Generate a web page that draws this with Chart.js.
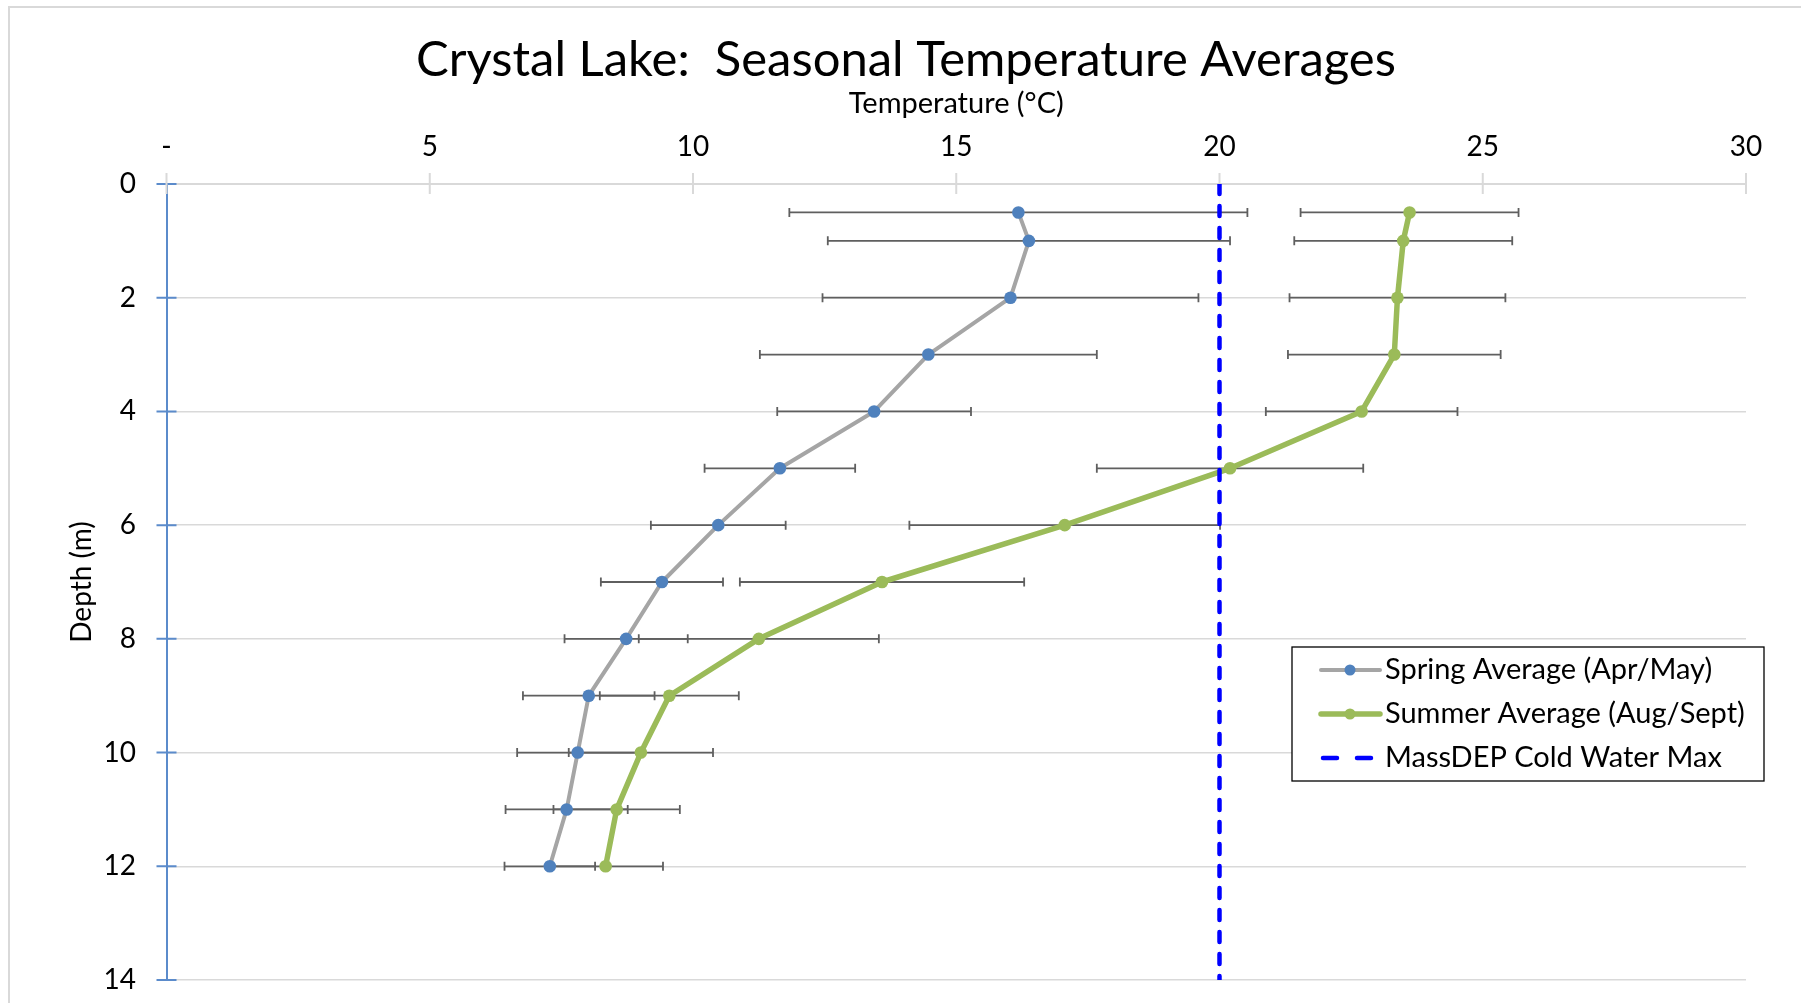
<!DOCTYPE html>
<html>
<head>
<meta charset="utf-8">
<script src="https://cdn.jsdelivr.net/npm/chart.js@4/dist/chart.umd.min.js"></script>
<style>
html,body{margin:0;padding:0;background:#fff;overflow:hidden}
canvas{display:block}
</style>
</head>
<body>
<canvas id="c" width="1801" height="1003"></canvas>
<script>
// ---------------- DATA ----------------
const chartTitle = 'Crystal Lake:  Seasonal Temperature Averages';
const xAxisTitle = 'Temperature (°C)';
const yAxisTitle = 'Depth (m)';
const seriesNames = ['Spring Average (Apr/May)', 'Summer Average (Aug/Sept)', 'MassDEP Cold Water Max'];

const depths     = [0.5, 1, 2, 3, 4, 5, 6, 7, 8, 9, 10, 11, 12];
const springTemp = [16.18, 16.38, 16.03, 14.47, 13.44, 11.65, 10.48, 9.41, 8.73, 8.02, 7.81, 7.60, 7.28];
const springErr  = [4.35, 3.82, 3.57, 3.20, 1.84, 1.43, 1.28, 1.16, 1.17, 1.25, 1.15, 1.16, 0.86];
const summerTemp = [23.61, 23.49, 23.38, 23.32, 22.70, 20.20, 17.06, 13.59, 11.25, 9.55, 9.01, 8.55, 8.34];
const summerErr  = [2.07, 2.07, 2.05, 2.02, 1.82, 2.53, 2.95, 2.70, 2.28, 1.32, 1.37, 1.20, 1.09];

const coldWaterMax    = [20, 20];
const coldWaterDepths = [0, 14];

const xTickValues = [0, 5, 10, 15, 20, 25, 30];
const xTickLabels = ['-', '5', '10', '15', '20', '25', '30'];
const yTickValues = [0, 2, 4, 6, 8, 10, 12, 14];
const yTickLabels = ['0', '2', '4', '6', '8', '10', '12', '14'];

// ---------------- STYLE ----------------
const FONT = 'Lato';
const COL = {
  springLine: '#A5A5A5', springMarker: '#4F81BD',
  summer: '#9BBB59', maxLine: '#0000FF',
  err: '#5F5F5F', grid: '#D9D9D9', yAxis: '#5B8BCB', text: '#000000'
};

const toPoints = (xs, ys) => xs.map((v, i) => ({x: v, y: ys[i]}));

// Excel-like frame, title, cross ticks, error bars and boxed legend
const decorPlugin = {
  id: 'decor',
  beforeDraw(chart) {
    const {ctx, width, height} = chart;
    ctx.save();
    ctx.strokeStyle = COL.grid; ctx.lineWidth = 2;
    ctx.beginPath(); ctx.moveTo(9, height); ctx.lineTo(9, 7); ctx.lineTo(width, 7); ctx.stroke();
    ctx.restore();
  },
  beforeDatasetsDraw(chart) {
    const {ctx, scales: {x, y}} = chart;
    ctx.save();
    ctx.strokeStyle = COL.yAxis; ctx.lineWidth = 2;
    ctx.beginPath();
    yTickValues.forEach(v => {
      const py = y.getPixelForValue(v);
      ctx.moveTo(x.left - 10, py); ctx.lineTo(x.left + 10, py);
    });
    ctx.stroke();
    ctx.strokeStyle = COL.grid; ctx.lineWidth = 2;
    ctx.beginPath();
    xTickValues.forEach(v => {
      const px = x.getPixelForValue(v);
      ctx.moveTo(px, y.top - 11); ctx.lineTo(px, y.top + 10);
    });
    ctx.stroke();
    ctx.strokeStyle = COL.err; ctx.lineWidth = 1.8;
    chart.data.datasets.forEach(ds => {
      if (!ds.errors) return;
      ds.data.forEach((p, i) => {
        const e = ds.errors[i];
        const x1 = x.getPixelForValue(p.x - e), x2 = x.getPixelForValue(p.x + e);
        const py = y.getPixelForValue(p.y);
        ctx.beginPath();
        ctx.moveTo(x1, py); ctx.lineTo(x2, py);
        ctx.moveTo(x1, py - 4.5); ctx.lineTo(x1, py + 4.5);
        ctx.moveTo(x2, py - 4.5); ctx.lineTo(x2, py + 4.5);
        ctx.stroke();
      });
    });
    ctx.restore();
  },
  afterDraw(chart, args, opts) {
    const {ctx} = chart;
    ctx.save();
    // chart title (centred on the chart frame, like Excel)
    ctx.fillStyle = COL.text;
    ctx.font = opts.titleSize + 'px ' + FONT;
    ctx.textAlign = 'center';
    ctx.textBaseline = 'middle';
    ctx.fillText(chartTitle, opts.titleX, opts.titleY);

    // boxed legend
    const {left: bx, top: by, width: bw, height: bh, rowGap, firstRow} = opts.legend;
    ctx.fillStyle = '#FFFFFF';
    ctx.fillRect(bx, by, bw, bh);
    ctx.strokeStyle = '#000000'; ctx.lineWidth = 1.3;
    ctx.strokeRect(bx, by, bw, bh);
    ctx.font = opts.legendSize + 'px ' + FONT;
    ctx.textBaseline = 'middle';
    ctx.textAlign = 'left';
    chart.data.datasets.forEach((ds, i) => {
      const ry = by + firstRow + i * rowGap;
      const sx1 = bx + 29, sx2 = bx + 88, mx = bx + 58;
      ctx.save();
      ctx.strokeStyle = ds.borderColor;
      ctx.lineWidth = ds.borderWidth;
      ctx.lineCap = 'round';
      if (ds.borderDash && ds.borderDash.length) {
        ctx.setLineDash([14, 20]);
        ctx.beginPath(); ctx.moveTo(sx1 + 2, ry); ctx.lineTo(sx2, ry); ctx.stroke();
      } else {
        ctx.beginPath(); ctx.moveTo(sx1, ry); ctx.lineTo(sx2, ry); ctx.stroke();
      }
      ctx.restore();
      if (ds.pointRadius > 0) {
        ctx.fillStyle = ds.pointBackgroundColor;
        ctx.beginPath(); ctx.arc(mx, ry, 5.5, 0, Math.PI * 2); ctx.fill();
      }
      ctx.fillStyle = COL.text;
      ctx.fillText(ds.label, bx + 93, ry);
    });
    ctx.restore();
  }
};

function build() {
  const ctx = document.getElementById('c').getContext('2d');
  new Chart(ctx, {
    type: 'scatter',
    data: {
      datasets: [
        {
          label: seriesNames[0],
          data: toPoints(springTemp, depths),
          errors: springErr,
          showLine: true,
          borderColor: COL.springLine, borderWidth: 4,
          pointBackgroundColor: COL.springMarker, pointBorderColor: COL.springMarker,
          pointBorderWidth: 0, pointRadius: 6.3, pointHoverRadius: 6.3,
          borderJoinStyle: 'round', borderCapStyle: 'round',
          tension: 0, order: 3
        },
        {
          label: seriesNames[1],
          data: toPoints(summerTemp, depths),
          errors: summerErr,
          showLine: true,
          borderColor: COL.summer, borderWidth: 5.5,
          pointBackgroundColor: COL.summer, pointBorderColor: COL.summer,
          pointBorderWidth: 0, pointRadius: 6.3, pointHoverRadius: 6.3,
          borderJoinStyle: 'round', borderCapStyle: 'round',
          tension: 0, order: 2
        },
        {
          label: seriesNames[2],
          data: toPoints(coldWaterMax, coldWaterDepths),
          showLine: true,
          borderColor: COL.maxLine, borderWidth: 4.5,
          borderDash: [10, 12], borderCapStyle: 'round',
          pointRadius: 0, pointHoverRadius: 0,
          tension: 0, order: 1
        }
      ]
    },
    options: {
      responsive: false,
      animation: false,
      devicePixelRatio: 1,
      layout: {padding: {left: 0, right: 55, top: 86, bottom: 23}},
      plugins: {
        legend: {display: false},
        tooltip: {enabled: false},
        title: {display: false},
        decor: {
          titleX: 906, titleY: 60, titleSize: 49, legendSize: 29,
          legend: {left: 1292, top: 647, width: 472, height: 134, firstRow: 23, rowGap: 44}
        }
      },
      scales: {
        x: {
          type: 'linear', position: 'top', min: 0, max: 30,
          afterFit: s => { s.height = 98; s.paddingLeft = 0; s.paddingRight = 0; },
          afterBuildTicks: s => { s.ticks = xTickValues.map(v => ({value: v})); },
          ticks: {
            padding: 20.7, color: COL.text, font: {family: FONT, size: 28},
            callback: v => { const i = xTickValues.indexOf(v); return i >= 0 ? xTickLabels[i] : ''; }
          },
          grid: {drawOnChartArea: false, drawTicks: false},
          border: {display: true, color: COL.grid, width: 2},
          title: {
            display: true, text: xAxisTitle, color: COL.text,
            font: {family: FONT, size: 29, lineHeight: 1.2},
            padding: {top: 0, bottom: 0}
          }
        },
        y: {
          type: 'linear', reverse: true, min: 0, max: 14,
          afterFit: s => { s.width = 166.5; s.paddingTop = 0; s.paddingBottom = 0; },
          afterBuildTicks: s => { s.ticks = yTickValues.map(v => ({value: v})); },
          ticks: {
            padding: 30.5, color: COL.text, font: {family: FONT, size: 28},
            callback: v => { const i = yTickValues.indexOf(v); return i >= 0 ? yTickLabels[i] : ''; }
          },
          grid: {color: COL.grid, lineWidth: 1.5, drawTicks: false},
          border: {display: true, color: COL.yAxis, width: 2},
          title: {
            display: true, text: yAxisTitle, color: COL.text,
            font: {family: FONT, size: 28, lineHeight: 1.2},
            padding: {top: 65.5, bottom: 0}
          }
        }
      }
    },
    plugins: [decorPlugin]
  });
}

if (document.fonts && document.fonts.load) {
  Promise.all([document.fonts.load('28px Lato'), document.fonts.load('49px Lato')]).then(build, build);
} else { build(); }
</script>
</body>
</html>
